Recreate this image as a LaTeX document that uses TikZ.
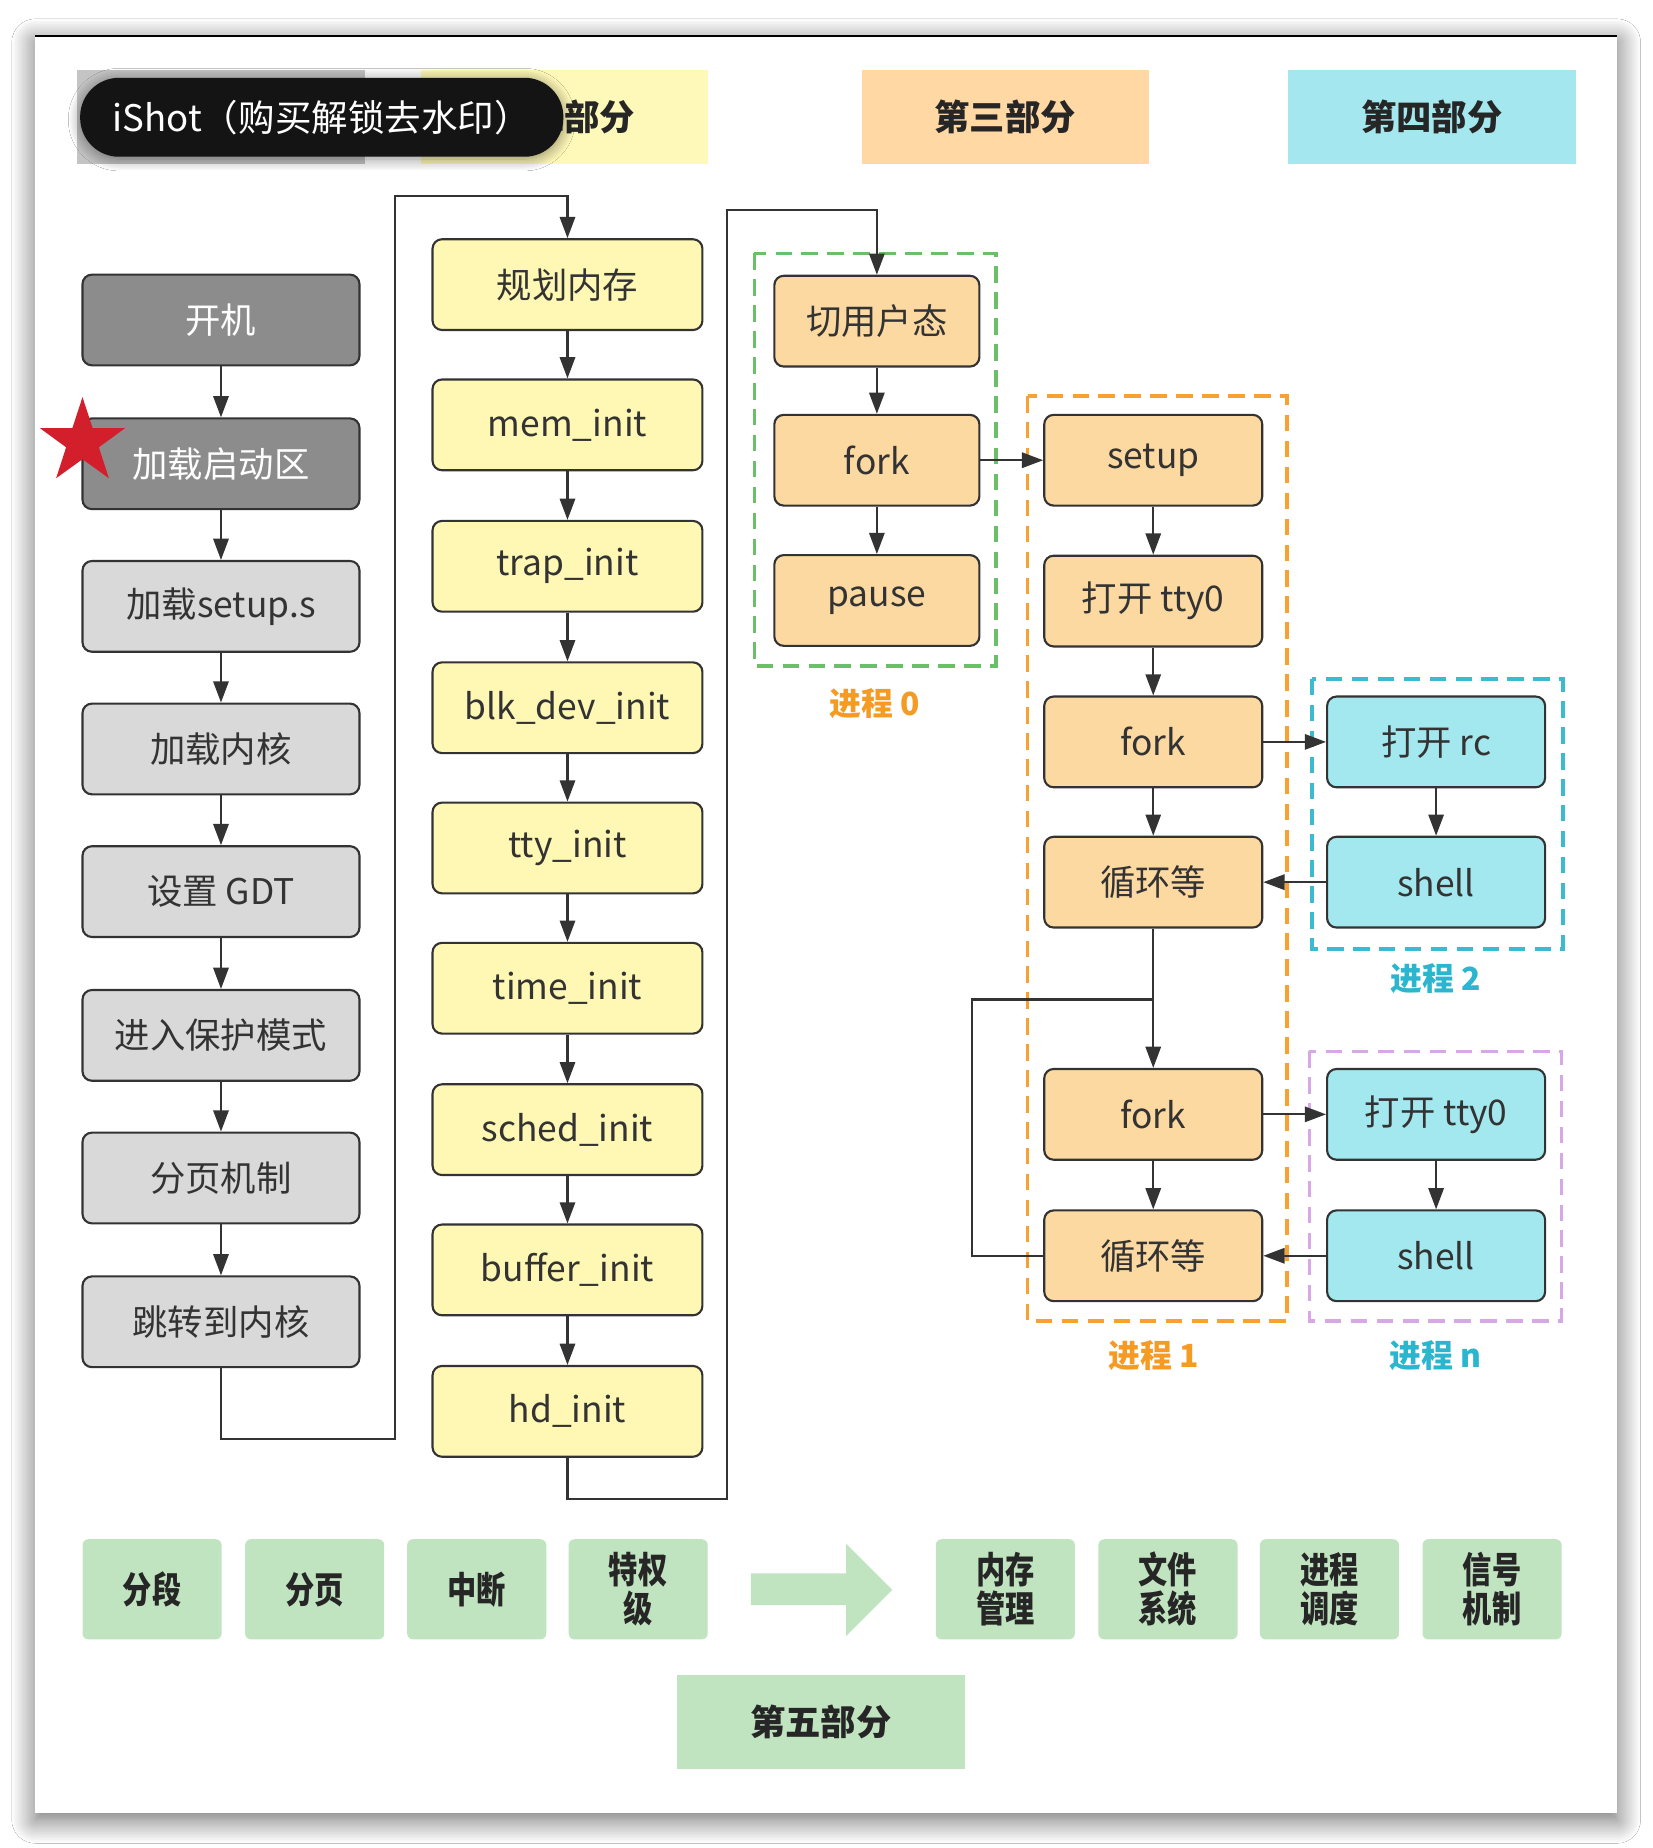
\documentclass[tikz,border=0pt]{standalone}
\usepackage{fontspec}
\setmainfont{Noto Sans CJK SC}
\newfontfamily\condfont[FakeStretch=0.8]{Noto Sans CJK SC}
\usetikzlibrary{shapes.geometric,shadows.blur,arrows.meta}
\definecolor{lc}{HTML}{333333}
\definecolor{dgray}{HTML}{8C8C8C}
\definecolor{lgray}{HTML}{D9D9D9}
\definecolor{yel}{HTML}{FFF8B5}
\definecolor{ora}{HTML}{FDD9A2}
\definecolor{cya}{HTML}{A3E8EE}
\definecolor{grn}{HTML}{C1E4C0}
\definecolor{hdgray}{HTML}{C4C4C4}
\definecolor{hdyel}{HTML}{FFF9B9}
\definecolor{hdora}{HTML}{FFD8A3}
\definecolor{hdcya}{HTML}{A4E7EE}
\definecolor{dgreen}{HTML}{6ABF69}
\definecolor{dora}{HTML}{F8A030}
\definecolor{dcya}{HTML}{3BBAD0}
\definecolor{dpur}{HTML}{D7A8E6}
\definecolor{lblora}{HTML}{F59A23}
\definecolor{lblcya}{HTML}{2BB5CE}
\definecolor{starred}{HTML}{D21F2B}
\begin{document}
\begin{tikzpicture}[x=1pt,y=-1pt,
  box/.style={draw=lc, line width=1.8pt, rounded corners=8pt, minimum height=77pt, inner sep=0pt, text=lc, font=\fontsize{30}{36}\selectfont},
  c1/.style={box, minimum width=235pt, fill=lgray},
  c1d/.style={box, minimum width=235pt, fill=dgray, text=white},
  c2/.style={box, minimum width=229pt, fill=yel},
  c3/.style={box, minimum width=174pt, fill=ora},
  c4/.style={box, minimum width=185pt, fill=ora},
  c5/.style={box, minimum width=185pt, fill=cya},
  hdr/.style={minimum width=244pt, minimum height=80pt, inner sep=0pt, text=black!85, font=\fontsize{30}{36}\selectfont\bfseries},
  gbox/.style={fill=grn, rounded corners=5pt, minimum width=118pt, minimum height=85pt, inner sep=0pt, align=center, text=black!85, font=\condfont\bfseries\fontsize{31}{33}\selectfont},
  conn/.style={draw=lc, line width=1.8pt, -{Triangle[length=18pt,width=13pt]}},
  plain/.style={draw=lc, line width=1.8pt},
  grp/.style={line width=3pt, dash pattern=on 14pt off 8pt},
  lbl/.style={font=\fontsize{27}{30}\selectfont\bfseries}
]
\useasboundingbox (0,0) rectangle (1402,1568);
\fill[white] (0,0) rectangle (1402,1568);
\fill[white, blur shadow={shadow xshift=0pt, shadow yshift=-6pt, shadow blur radius=20pt, shadow blur steps=15, shadow opacity=60}] (30,30) rectangle (1372,1538);
\draw[black, line width=1.5pt] (30,30.5) -- (1372,30.5);

% headers
\node[hdr, fill=hdgray] (h1) at (187.5,99) {第一部分};
\node[hdr, fill=hdyel] (h2) at (479,99) {第二部分};
\node[hdr, fill=hdora] (h3) at (853,99) {第三部分};
\node[hdr, fill=hdcya] (h4) at (1215,99) {第四部分};

% column 1
\node[c1d] (c1) at (187.5,271.5) {开机};
\node[c1d] (c2) at (187.5,393.5) {加载启动区};
\node[c1] (c3) at (187.5,514.5) {加载setup.s};
\node[c1] (c4) at (187.5,635.5) {加载内核};
\node[c1] (c5) at (187.5,756.5) {设置 GDT};
\node[c1] (c6) at (187.5,878.5) {进入保护模式};
\node[c1] (c7) at (187.5,999.5) {分页机制};
\node[c1] (c8) at (187.5,1121.5) {跳转到内核};
\node[star, star points=5, star point ratio=2.6, fill=starred, minimum size=76pt, inner sep=0pt] (star) at (70,375) {};

% column 2
\node[c2] (r1) at (481.5,241.5) {规划内存};
\node[c2] (r2) at (481.5,360.5) {mem\_init};
\node[c2] (r3) at (481.5,480.5) {trap\_init};
\node[c2] (r4) at (481.5,600.5) {blk\_dev\_init};
\node[c2] (r5) at (481.5,719.5) {tty\_init};
\node[c2] (r6) at (481.5,838.5) {time\_init};
\node[c2] (r7) at (481.5,958.5) {sched\_init};
\node[c2] (r8) at (481.5,1077.5) {buffer\_init};
\node[c2] (r9) at (481.5,1197.5) {hd\_init};

% column 3
\node[c3] (p1) at (744,272.5) {切用户态};
\node[c3] (p2) at (744,390.5) {fork};
\node[c3] (p3) at (744,509.5) {pause};

% column 4
\node[c4] (q1) at (978.5,390.5) {setup};
\node[c4] (q2) at (978.5,510) {打开 tty0};
\node[c4] (q3) at (978.5,629.5) {fork};
\node[c4] (q4) at (978.5,748.5) {循环等};
\node[c4] (q5) at (978.5,945.5) {fork};
\node[c4] (q6) at (978.5,1065.5) {循环等};

% column 5
\node[c5] (s1) at (1218.5,629.5) {打开 rc};
\node[c5] (s2) at (1218.5,748.5) {shell};
\node[c5] (s3) at (1218.5,945.5) {打开 tty0};
\node[c5] (s4) at (1218.5,1065.5) {shell};

% group boxes
\draw[grp, draw=dgreen] (640,215) rectangle (845,565);
\draw[grp, draw=dora] (872,336) rectangle (1092,1121);
\draw[grp, draw=dcya] (1113,576) rectangle (1326,805);
\draw[grp, draw=dpur] (1111,892) rectangle (1325,1121);
\node[lbl, text=lblora] (g0) at (742,597) {进程 0};
\node[lbl, text=lblora] (g1) at (979,1150) {进程 1};
\node[lbl, text=lblcya] (g2) at (1218,830) {进程 2};
\node[lbl, text=lblcya] (gn) at (1218,1150) {进程 n};

% connectors
\foreach \a/\b in {c1/c2,c2/c3,c3/c4,c4/c5,c5/c6,c6/c7,c7/c8,
                   r1/r2,r2/r3,r3/r4,r4/r5,r5/r6,r6/r7,r7/r8,r8/r9,
                   p1/p2,p2/p3,q1/q2,q2/q3,q3/q4,q4/q5,q5/q6,s1/s2,s3/s4}
  \draw[conn] (\a.south) -- (\b.north);
\coordinate (a1) at (335,1221);
\coordinate (a2) at (335,166);
\draw[conn] (c8.south) |- (a1) -- (a2) -| (r1.north);
\coordinate (b1) at (617,1272);
\coordinate (b2) at (617,178);
\draw[conn] (r9.south) |- (b1) -- (b2) -| (p1.north);
\draw[conn] (p2.east) -- (q1.west);
\draw[conn] (q3.east) -- (s1.west);
\draw[conn] (s2.west) -- (q4.east);
\draw[conn] (q5.east) -- (s3.west);
\draw[conn] (s4.west) -- (q6.east);
\coordinate (l2) at (825,848);
\coordinate (l3) at (978.5,848);
\draw[plain] (q6.west) -| (l2) -- (l3);

% bottom
\node[gbox] (f1) at (129,1348.5) {分段};
\node[gbox] (f2) at (267,1348.5) {分页};
\node[gbox] (f3) at (404.5,1348.5) {中断};
\node[gbox] (f4) at (541.5,1348.5) {特权\\级};
\fill[grn] (637,1335) -- (718,1335) -- (718,1310) -- (757,1349) -- (718,1388) -- (718,1362) -- (637,1362) -- cycle;
\node[gbox] (f5) at (853,1348.5) {内存\\管理};
\node[gbox] (f6) at (991,1348.5) {文件\\系统};
\node[gbox] (f7) at (1128,1348.5) {进程\\调度};
\node[gbox] (f8) at (1266,1348.5) {信号\\机制};
\node[hdr, fill=grn] (h5) at (696.5,1461) {第五部分};

% watermark
\fill[black!92, rounded corners=33pt, blur shadow={shadow xshift=0pt, shadow yshift=-2pt, shadow blur radius=10pt, shadow blur steps=12, shadow opacity=45}] (68,66) rectangle (478,133);
\node[text=white, font=\fontsize{31}{36}\selectfont, inner sep=0pt] (wm) at (273,99.5) {iShot（购买解锁去水印）};
\end{tikzpicture}
\end{document}
